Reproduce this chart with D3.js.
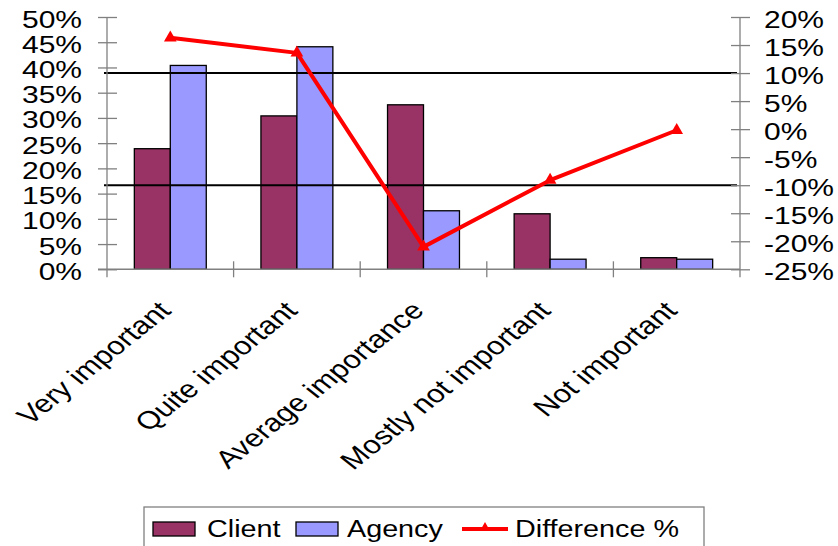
<!DOCTYPE html>
<html>
<head>
<meta charset="utf-8">
<script src="https://cdn.jsdelivr.net/npm/d3@7"></script>
<style>
  html, body { margin: 0; padding: 0; background: #fff; }
  svg { display: block; }
  text { font-family: "Liberation Sans", Arial, sans-serif; fill: #000; }
</style>
</head>
<body>
<svg id="chart" width="838" height="546"></svg>
<script>
// Importance ratings: share of respondents per answer, and Agency minus Client gap
const categories = ["Very important", "Quite important", "Average importance", "Mostly not important", "Not important"];
const clientValues = [23.9, 30.4, 32.6, 11.0, 2.3];
const agencyValues = [40.4, 44.1, 11.6, 2.0, 2.0];
const differenceValues = [16.3, 13.6, -21.0, -9.1, -0.2];
const leftTicks = [0, 5, 10, 15, 20, 25, 30, 35, 40, 45, 50];
const rightTicks = [-25, -20, -15, -10, -5, 0, 5, 10, 15, 20];
const referenceLines = [10, -10];
const seriesNames = ["Client", "Agency"];
const seriesColors = { Client: "#993366", Agency: "#9999FF" };

const svg = d3.select("#chart");
svg.append("rect").attr("width", 838).attr("height", 546).attr("fill", "#fff");

const plot = { left: 107, right: 740, top: 17, bottom: 269.3 };
const stretch = "scale(1.25,1)";

const x0 = d3.scaleBand().domain(categories).range([plot.left, plot.right]).paddingInner(0).paddingOuter(0);
const x1 = d3.scaleBand().domain(seriesNames).range([0, x0.bandwidth()]).paddingInner(0).paddingOuter(0.76);
const yL = d3.scaleLinear().domain([0, 50]).range([plot.bottom, plot.top]);
const yR = d3.scaleLinear().domain([-25, 20]).range([plot.bottom, plot.top]);

// Bars
const rows = categories.map((c, i) => ({ c, Client: clientValues[i], Agency: agencyValues[i] }));
const groups = svg.append("g").selectAll("g").data(rows).join("g")
  .attr("transform", d => `translate(${x0(d.c)},0)`);
groups.selectAll("rect").data(d => seriesNames.map(k => ({ k, v: d[k] }))).join("rect")
  .attr("x", d => x1(d.k))
  .attr("y", d => yL(d.v))
  .attr("width", x1.bandwidth())
  .attr("height", d => yL(0) - yL(d.v))
  .attr("fill", d => seriesColors[d.k])
  .attr("stroke", "#000")
  .attr("stroke-width", 1.3);

// Horizontal reference lines at +/-10% on the right-hand scale
svg.append("g").selectAll("line").data(referenceLines).join("line")
  .attr("x1", plot.left - 3).attr("x2", plot.right - 3)
  .attr("y1", d => yR(d)).attr("y2", d => yR(d))
  .attr("stroke", "#000").attr("stroke-width", 2);

// Left axis
const axL = svg.append("g").attr("transform", `translate(${plot.left},0)`)
  .call(d3.axisLeft(yL).tickValues(leftTicks).tickFormat(d => d + "%").tickSize(9).tickPadding(0));
axL.select(".domain").remove();
axL.selectAll(".tick line").attr("x1", 10).attr("x2", -9).attr("stroke", "#808080").attr("stroke-width", 1.3);
axL.selectAll(".tick text")
  .attr("x", null).attr("dy", null).attr("y", null)
  .attr("transform", `translate(-25,10) ${stretch}`)
  .attr("text-anchor", "end")
  .style("font-size", "24px").style("font-family", "'Liberation Sans', Arial, sans-serif");
svg.append("line").attr("x1", plot.left).attr("x2", plot.left)
  .attr("y1", plot.top).attr("y2", plot.bottom + 8)
  .attr("stroke", "#808080").attr("stroke-width", 1.3);

// Right axis
const axR = svg.append("g").attr("transform", `translate(${plot.right},0)`)
  .call(d3.axisRight(yR).tickValues(rightTicks).tickFormat(d => d + "%").tickSize(9).tickPadding(0));
axR.select(".domain").remove();
axR.selectAll(".tick line").attr("x1", -9).attr("x2", 10).attr("stroke", "#808080").attr("stroke-width", 1.3);
axR.selectAll(".tick text")
  .attr("x", null).attr("dy", null).attr("y", null)
  .attr("transform", `translate(24,10) ${stretch}`)
  .attr("text-anchor", "start")
  .style("font-size", "24px").style("font-family", "'Liberation Sans', Arial, sans-serif");
svg.append("line").attr("x1", plot.right).attr("x2", plot.right)
  .attr("y1", plot.top).attr("y2", plot.bottom + 8)
  .attr("stroke", "#808080").attr("stroke-width", 1.3);

// Category axis
svg.append("line").attr("x1", plot.left - 9).attr("x2", plot.right)
  .attr("y1", plot.bottom).attr("y2", plot.bottom)
  .attr("stroke", "#808080").attr("stroke-width", 1.5);
const bounds = categories.slice(1).map(c => x0(c));
svg.append("g").selectAll("line").data(bounds).join("line")
  .attr("x1", d => d).attr("x2", d => d)
  .attr("y1", plot.bottom - 8).attr("y2", plot.bottom + 8)
  .attr("stroke", "#808080").attr("stroke-width", 1.3);
svg.append("g").selectAll("text").data(categories).join("text")
  .attr("transform", d => `translate(${x0(d) + x0.bandwidth() / 2 + 2},312) ${stretch} rotate(-45)`)
  .attr("text-anchor", "end")
  .style("font-size", "25px")
  .text(d => d);

// Difference line on the right-hand scale
const cx = c => x0(c) + x0.bandwidth() / 2;
const linePts = categories.map((c, i) => [cx(c), yR(differenceValues[i])]);
svg.append("path").datum(linePts)
  .attr("d", d3.line())
  .attr("fill", "none").attr("stroke", "#FF0000").attr("stroke-width", 4).attr("stroke-linejoin", "round");
const tri = d3.symbol().type(d3.symbolTriangle).size(70);
svg.append("g").selectAll("path").data(linePts).join("path")
  .attr("transform", d => `translate(${d[0]},${d[1]})`)
  .attr("d", tri).attr("fill", "#FF0000");

// Legend
const lg = svg.append("g");
lg.append("rect").attr("x", 144).attr("y", 507).attr("width", 560).attr("height", 50)
  .attr("fill", "#fff").attr("stroke", "#808080").attr("stroke-width", 1.3);
const legendItems = [
  { name: "Client", kind: "bar", sx: 153, tx: 207 },
  { name: "Agency", kind: "bar", sx: 296, tx: 347 },
  { name: "Difference %", kind: "line", sx: 462, tx: 515 }
];
legendItems.forEach(it => {
  if (it.kind === "bar") {
    lg.append("rect").attr("x", it.sx).attr("y", 522).attr("width", 42).attr("height", 14)
      .attr("fill", seriesColors[it.name]).attr("stroke", "#000").attr("stroke-width", 1.3);
  } else {
    lg.append("line").attr("x1", it.sx).attr("x2", it.sx + 46).attr("y1", 529).attr("y2", 529)
      .attr("stroke", "#FF0000").attr("stroke-width", 4);
    lg.append("path").attr("transform", `translate(${it.sx + 23},528)`)
      .attr("d", d3.symbol().type(d3.symbolTriangle).size(45)).attr("fill", "#FF0000");
  }
  lg.append("text").attr("transform", `translate(${it.tx},537) ${stretch}`)
    .style("font-size", "23px").text(it.name);
});
</script>
</body>
</html>
